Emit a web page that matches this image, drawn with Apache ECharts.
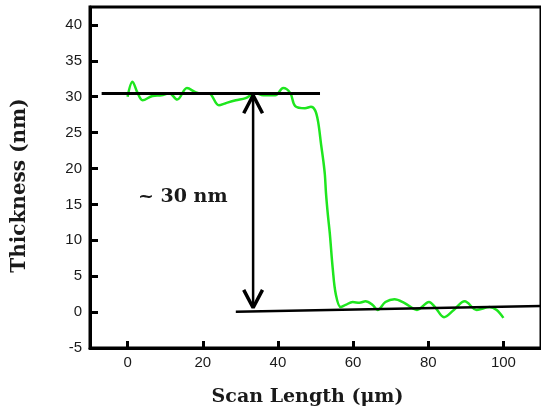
<!DOCTYPE html>
<html>
<head>
<meta charset="utf-8">
<script src="https://cdn.jsdelivr.net/npm/echarts@6/dist/echarts.min.js"></script>
<style>
  html, body { margin: 0; padding: 0; background: #fff; }
  #chart { width: 541px; height: 415px; }
</style>
</head>
<body>
<div id="chart"></div>
<script>
// 扫描长度 (μm) 与厚度 (nm)
var scanX = [0, 1.3, 2.6, 4.0, 6.6, 9.0, 11.1, 13.2, 15.8, 18.2, 19.8, 21.6, 24.3, 26.1, 28.8, 31.4, 34.0, 36.1, 39.3, 41.4, 43.3, 44.6, 47.2, 48.8, 49.9, 50.7, 51.5, 52.1, 52.5, 52.8, 53.3, 53.8, 54.6, 55.4, 56.7, 58.0, 59.9, 61.7, 63.3, 65.2, 66.5, 68.6, 71.0, 73.6, 77.0, 80.2, 81.8, 84.2, 86.8, 89.7, 92.9, 96.3, 98.2, 100];
var thickness = [30.0, 32.1, 30.6, 29.5, 30.1, 30.2, 30.5, 29.6, 31.2, 30.6, 30.4, 30.5, 28.8, 29.1, 29.5, 29.8, 30.5, 30.2, 30.2, 31.2, 30.5, 28.7, 28.4, 28.6, 28.1, 26.5, 23.3, 21.0, 19.1, 16.5, 13.5, 11.0, 6.0, 2.5, 0.7, 1.0, 1.4, 1.3, 1.5, 1.0, 0.3, 1.4, 1.8, 1.3, 0.3, 1.4, 0.7, -0.7, 0.3, 1.5, 0.3, 0.7, 0.3, -0.8];

var xTicks = [0, 20, 40, 60, 80, 100];
var yTicks = [-5, 0, 5, 10, 15, 20, 25, 30, 35, 40];

// 标注线：上、下两条基准线和双向箭头
var topLevel = [[-6.9, 30.45], [51.2, 30.45]];
var bottomLevel = [[28.8, 0.05], [110, 0.85]];
var arrowShaft = [[33.4, 30.2], [33.4, 0.6]];
var arrowHeadTop = [[30.9, 27.7], [33.4, 30.2], [35.9, 27.7]];
var arrowHeadBottom = [[30.9, 3.1], [33.4, 0.6], [35.9, 3.1]];
var stepLabel = '~ 30 nm';

var chart = echarts.init(document.getElementById('chart'));

function pairs(xs, ys) {
    var out = [];
    for (var i = 0; i < xs.length; i++) {
        out.push([xs[i], ys[i]]);
    }
    return out;
}

function blackLine(data, width) {
    return {
        type: 'line',
        data: data,
        symbol: 'none',
        silent: true,
        lineStyle: { color: '#000', width: width },
        z: 5
    };
}

var labelFont = { color: '#1a1a1a', fontSize: 15, fontFamily: 'Liberation Sans, Arial, sans-serif' };
var titleFont = { color: '#1a1a1a', fontSize: 19, fontWeight: 'bold', fontFamily: 'DejaVu Serif, serif' };

chart.setOption({
    animation: false,
    grid: {
        left: 90,
        top: 7,
        right: -4,
        bottom: 67,
        show: true,
        borderColor: '#000',
        borderWidth: 3
    },
    xAxis: {
        type: 'value',
        min: -10,
        max: 110,
        name: 'Scan Length (μm)',
        nameLocation: 'middle',
        nameGap: 40,
        nameTextStyle: Object.assign({}, titleFont, { padding: [0, 16, 0, 0] }),
        splitLine: { show: false },
        axisLine: { onZero: false, lineStyle: { color: '#000', width: 3 } },
        axisTick: { inside: true, length: 7, lineStyle: { color: '#000', width: 3 }, customValues: xTicks },
        axisLabel: Object.assign({ margin: 7, customValues: xTicks }, labelFont)
    },
    yAxis: {
        type: 'value',
        min: -5,
        max: 42.5,
        name: 'Thickness (nm)',
        nameLocation: 'middle',
        nameGap: 60,
        nameRotate: 90,
        nameTextStyle: Object.assign({}, titleFont, { fontSize: 20, padding: [0, 16, 0, 0] }),
        splitLine: { show: false },
        axisLine: { onZero: false, lineStyle: { color: '#000', width: 3 } },
        axisTick: { inside: true, length: 8, lineStyle: { color: '#000', width: 3 }, customValues: yTicks },
        axisLabel: Object.assign({ margin: 8, customValues: yTicks }, labelFont)
    },
    graphic: [{
        type: 'text',
        left: 138,
        top: 188,
        style: {
            text: stepLabel,
            fill: '#1a1a1a',
            font: 'bold 19px "DejaVu Serif", serif'
        }
    }],
    series: [
        {
            type: 'line',
            data: pairs(scanX, thickness),
            symbol: 'none',
            smooth: 0.35,
            lineStyle: { color: '#1ee61e', width: 2.5 },
            z: 4
        },
        blackLine(topLevel, 3),
        blackLine(bottomLevel, 2.5),
        blackLine(arrowShaft, 2.5),
        blackLine(arrowHeadTop, 3.5),
        blackLine(arrowHeadBottom, 3.5)
    ]
});
</script>
</body>
</html>
